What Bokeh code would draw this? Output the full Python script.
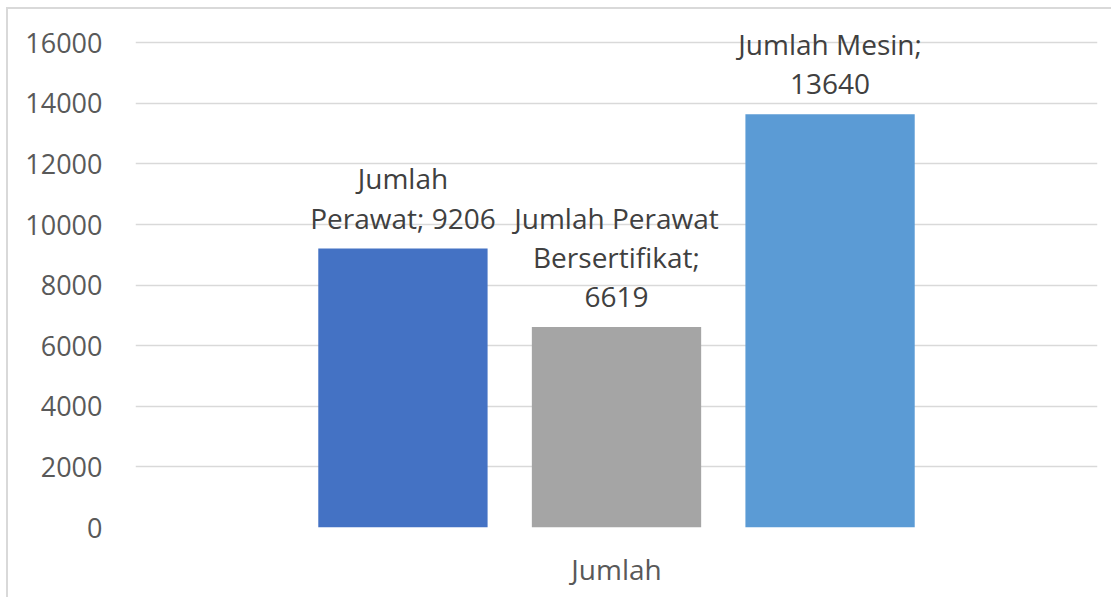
from bokeh.plotting import figure
from bokeh.models import FactorRange, Range1d, FixedTicker, ColumnDataSource
from bokeh.transform import dodge
from bokeh.core.properties import value
from bokeh.embed import file_html
from bokeh.resources import INLINE

categories = ["Jumlah"]
series_names = ["Jumlah Perawat", "Jumlah Perawat Bersertifikat", "Jumlah Mesin"]
series_values = [9206, 6619, 13640]
series_colors = ["#4472C4", "#A5A5A5", "#5B9BD5"]
label_texts = ["Jumlah\nPerawat; 9206", "Jumlah Perawat\nBersertifikat;\n6619", "Jumlah Mesin;\n13640"]
y_ticks = [0, 2000, 4000, 6000, 8000, 10000, 12000, 14000, 16000]

FONT = "Open Sans"

p = figure(
    x_range=FactorRange(factors=categories, range_padding=0),
    y_range=Range1d(0, 17000),
    width=1105, height=590,
    output_backend="svg", toolbar_location=None,
    min_border_left=127, min_border_right=16,
    min_border_top=3, min_border_bottom=72,
)
p.styles = {"border-left": "2px solid #d9d9d9", "border-top": "2px solid #d9d9d9",
            "margin-left": "6px", "margin-top": "7px"}
p.outline_line_color = None
p.background_fill_color = "white"
p.border_fill_color = "white"

p.xgrid.grid_line_color = None
p.ygrid.grid_line_color = "#d9d9d9"
p.ygrid.grid_line_width = 1.5

p.yaxis.ticker = FixedTicker(ticks=y_ticks)
p.yaxis.axis_line_color = None
p.yaxis.major_tick_line_color = None
p.yaxis.minor_tick_line_color = None
p.yaxis.major_label_text_font = FONT
p.yaxis.major_label_text_font_size = "27px"
p.yaxis.major_label_text_color = "#595959"
p.yaxis.major_label_standoff = 27

p.xaxis.axis_line_color = None
p.xaxis.major_tick_line_color = None
p.xaxis.minor_tick_line_color = None
p.xaxis.major_label_text_font = FONT
p.xaxis.major_label_text_font_size = "28px"
p.xaxis.major_label_text_color = "#595959"
p.xaxis.major_label_standoff = 16

bar_w = 0.176
step = 0.222
n = len(series_names)
for i in range(n):
    off = (i - (n - 1) / 2) * step
    src = ColumnDataSource(dict(cat=categories, val=[series_values[i]], lab=[label_texts[i]]))
    p.vbar(x=dodge("cat", off, range=p.x_range), top="val", width=bar_w, bottom=0,
           source=src, fill_color=series_colors[i], line_color=None)
    p.text(x=dodge("cat", off, range=p.x_range), y="val", text="lab", source=src,
           text_align="center", text_baseline="bottom", y_offset=-12,
           text_font=value(FONT), text_font_size="28px", text_color="#404040",
           text_line_height=1.03)

open("out.html", "w").write(file_html(p, INLINE))
